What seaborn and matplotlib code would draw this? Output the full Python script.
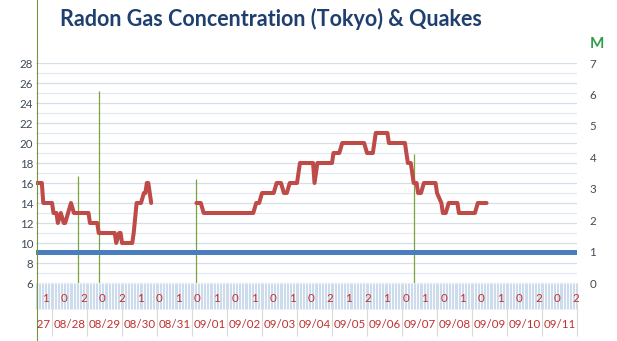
import numpy as np
import pandas as pd
import matplotlib
matplotlib.use("Agg")
import matplotlib.pyplot as plt
import seaborn as sns
from matplotlib.lines import Line2D
from matplotlib.transforms import Bbox, TransformedBbox, blended_transform_factory

# Radon readings: corner points of the hourly trace (hours counted from 08/28 00:00)
span1_hours = [-10.5, -7, -6, 0, 1, 3, 4, 6, 8, 9, 11, 13, 15, 25, 26, 31, 32, 43, 44, 46,
               47, 48, 55, 56, 58, 61, 63, 64, 65, 66, 68]
span1_radon = [16, 16, 14, 14, 13, 13, 12, 13, 12, 12, 13, 14, 13, 13, 12, 12, 11, 11, 10, 11,
               11, 10, 10, 11, 14, 14, 15, 15, 16, 16, 14]

span2_hours = [99, 102, 104, 138, 140, 142, 144, 152, 154, 157, 159, 161, 163, 168, 170, 179,
               180, 182, 192, 193, 197, 199, 214, 216, 220, 222, 230, 231, 242, 244, 246, 248,
               250, 251, 253, 255, 263, 264, 267, 268, 270, 272, 278, 279, 290, 292, 298]
span2_radon = [14, 14, 13, 13, 14, 14, 15, 15, 16, 16, 15, 15, 16, 16, 18, 18,
               16, 18, 18, 19, 19, 20, 20, 19, 19, 21, 21, 20, 20, 18, 18, 16,
               16, 15, 15, 16, 16, 15, 14, 13, 13, 14, 14, 13, 13, 14, 14]

# Earthquakes (hour, magnitude)
quake_hours = [18, 32, 99, 248]
quake_magnitude = [3.4, 6.1, 3.3, 4.1]

# Reference level on the magnitude scale
baseline_magnitude = 1.0

date_labels = ["08/27", "08/28", "08/29", "08/30", "08/31", "09/01", "09/02", "09/03",
               "09/04", "09/05", "09/06", "09/07", "09/08", "09/09", "09/10", "09/11"]
hour_labels = ["1", "0", "2", "0", "2", "1", "0", "1", "0", "1", "0", "1", "0", "1", "0",
               "2", "1", "2", "1", "0", "1", "0", "1", "0", "1", "0", "2", "0", "2"]

df = pd.DataFrame({
    "hour": span1_hours + span2_hours,
    "radon": span1_radon + span2_radon,
    "span": [1] * len(span1_hours) + [2] * len(span2_hours),
})

sns.set_theme(style="white")
plt.rcParams["font.family"] = ["Lato", "DejaVu Sans"]

W, H = 617, 341
fig = plt.figure(figsize=(W / 100, H / 100), dpi=100)
fig.patch.set_facecolor("white")

left_px, right_px, top_px, bottom_px = 36, 577, 63, 283
ax = fig.add_axes([left_px / W, 1 - bottom_px / H,
                   (right_px - left_px) / W, (bottom_px - top_px) / H])
ax2 = ax.twinx()
ax3 = ax.twinx()

x_start, x_end = -11, 360
ax.set_xlim(x_start, x_end)
ax.set_ylim(6, 28)
ax2.set_ylim(0, 7)
ax3.set_ylim(6, 28)

# Horizontal gridlines
ax.set_yticks(np.arange(6, 29, 2))
ax.set_yticks(np.arange(7, 28, 2), minor=True)
ax.grid(axis="y", which="major", color="#d5dfea", lw=0.9)
ax.grid(axis="y", which="minor", color="#e2e9f1", lw=0.9)
ax.grid(axis="x", visible=False)
ax.set_axisbelow(True)

tick_color = "#3f4a57"
ax.tick_params(axis="y", which="both", length=0, pad=2, labelsize=8.3, labelcolor=tick_color,
               left=False)
ax2.set_yticks(np.arange(0, 8))
ax2.tick_params(axis="y", length=0, pad=9, labelsize=8.3, labelcolor=tick_color, right=False)

# Hourly category ticks form the band below the plot; day separators are longer
ax.set_xticks(np.arange(0, 361, 24))
ax.set_xticks(np.arange(x_start, x_end + 1), minor=True)
ax.set_xticklabels([])
ax.tick_params(axis="x", which="minor", bottom=True, length=19, width=0.8,
               color="#cddcec", direction="out")
ax.tick_params(axis="x", which="major", bottom=True, length=38, width=0.8,
               color="#d9d9d9", direction="out")

for a in (ax, ax2, ax3):
    for s in a.spines.values():
        s.set_visible(False)
ax3.set_axis_off()

# Quakes and reference level on the magnitude axis
ax2.vlines(quake_hours, 0, quake_magnitude, color="#7ba33c", lw=0.9)
ax2.axhline(baseline_magnitude, color="#4a7dbb", lw=3.6)

# Radon trace
sns.lineplot(data=df, x="hour", y="radon", units="span", estimator=None, sort=False,
             color="#be4b48", lw=2.9, ax=ax3, legend=False,
             solid_joinstyle="round", solid_capstyle="round")
ax3.set_xlabel("")
ax3.set_ylabel("")

# Category labels below the axis
label_color = "#c0302f"
trans = blended_transform_factory(ax.transData, fig.transFigure)
clip = TransformedBbox(Bbox([[0, -2], [1.01, 2]]), ax.transAxes)
for k, lab in enumerate(hour_labels):
    fig.text(-4.5 + 13 * k, 1 - 299 / H, lab, transform=trans, ha="center", va="center",
             fontsize=8.3, color=label_color)
for i, lab in enumerate(date_labels):
    t = fig.text(-12 + 24 * i, 1 - 324 / H, lab, transform=trans, ha="center", va="center",
                 fontsize=8.3, color=label_color)
    t.set_clip_box(clip)
    t.set_clip_on(True)

# Left axis line running the full height
fig.add_artist(Line2D([36.5 / W, 36.5 / W], [0, 1], transform=fig.transFigure,
                      color="#77933c", lw=0.8))

fig.text(60 / W, 1 - 19 / H, "Radon Gas Concentration (Tokyo) & Quakes", ha="left",
         va="center", fontsize=15.5, fontweight="bold", color="#1f3f6e")
fig.text(597 / W, 1 - 44 / H, "M", ha="center", va="center", fontsize=11,
         fontweight="bold", color="#2f9e4c")

fig.savefig("out.png", dpi=100, facecolor="white")
